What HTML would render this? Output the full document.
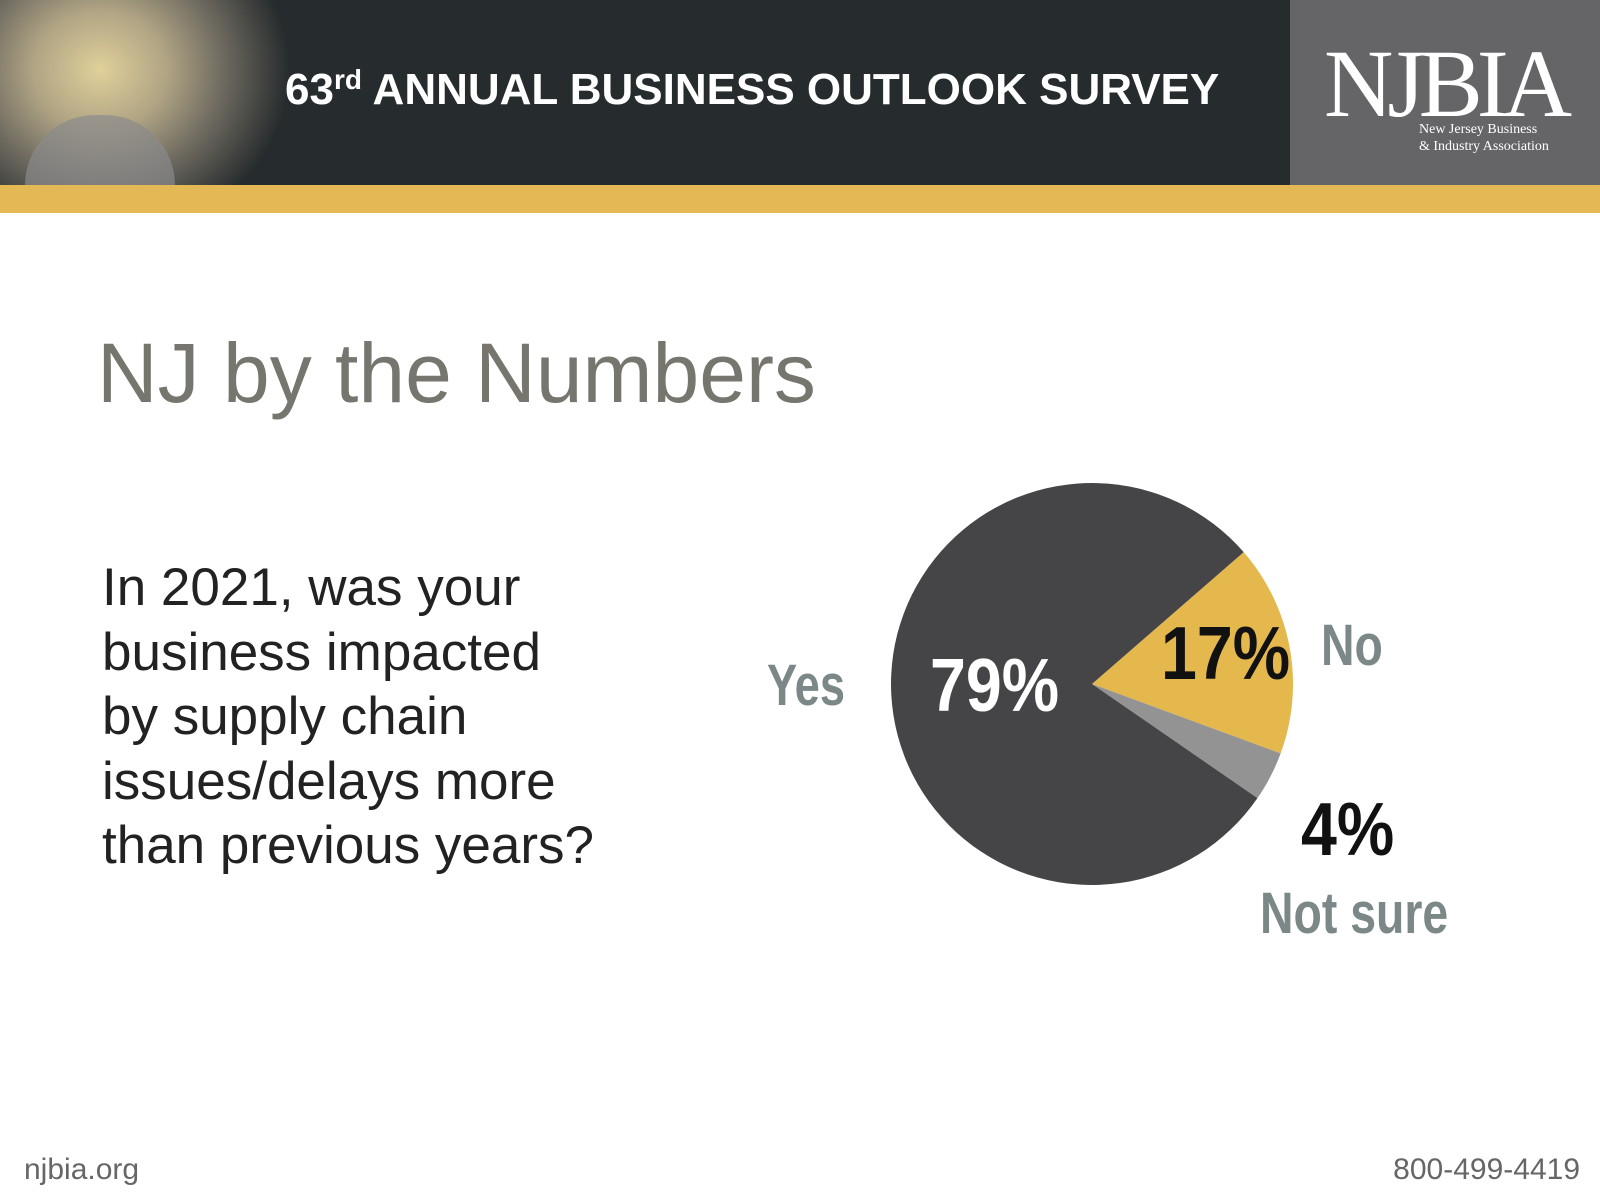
<!DOCTYPE html>
<html><head><meta charset="utf-8"><style>
body{margin:0;width:1600px;height:1200px;background:#fff;overflow:hidden;font-family:"Liberation Sans",sans-serif;position:relative}
.abs{position:absolute;white-space:nowrap}
.cond{font-family:"Liberation Sans Narrow","Liberation Sans",sans-serif;font-weight:bold}
</style></head><body>
<div class="abs" style="left:0;top:0;width:1290px;height:185px;background:#262b2d"></div>
<div class="abs" style="left:0;top:0;width:330px;height:185px;background:radial-gradient(ellipse 190px 170px at 100px 70px,#e0d09a 0%,#b0a484 35%,#6e6a60 65%,#262b2d 100%)"></div>
<div class="abs" style="left:25px;top:115px;width:150px;height:70px;background:#8a8a8c;border-radius:70px 70px 0 0;opacity:.7"></div>
<div class="abs" style="left:285px;top:64px;font-size:44px;font-weight:bold;color:#fff">63<sup style="font-size:28px;vertical-align:15px">rd</sup> ANNUAL BUSINESS OUTLOOK SURVEY</div>
<div class="abs" style="left:1290px;top:0;width:310px;height:185px;background:#656568"></div>
<div class="abs" style="left:1324px;top:28px;font-family:'Liberation Serif',serif;font-size:96px;color:#fff;letter-spacing:-6px">NJBIA</div>
<div class="abs" style="left:1419px;top:121px;font-family:'Liberation Serif',serif;font-size:14px;line-height:17px;color:#fff">New Jersey Business<br>&amp; Industry Association</div>
<div class="abs" style="left:0;top:185px;width:1600px;height:28px;background:#e4b955"></div>
<div class="abs" style="left:97px;top:325px;font-size:84px;color:#76766f">NJ by the Numbers</div>
<div class="abs" style="left:102px;top:556px;font-size:53px;line-height:64.5px;color:#222">In 2021, was your<br>business impacted<br>by supply chain<br>issues/delays more<br>than previous years?</div>
<svg class="abs" style="left:0;top:0" width="1600" height="1200" id="pie"></svg>
<div class="abs cond" style="left:767px;top:652px;font-size:58px;color:#7c8888;transform:scaleX(.78);transform-origin:left">Yes</div>
<div class="abs cond" style="left:930px;top:642px;font-size:75px;color:#fff;transform:scaleX(.86);transform-origin:left">79%</div>
<div class="abs cond" style="left:1161px;top:610px;font-size:75px;color:#111;transform:scaleX(.86);transform-origin:left">17%</div>
<div class="abs cond" style="left:1321px;top:612px;font-size:58px;color:#7c8888;transform:scaleX(.8);transform-origin:left">No</div>
<div class="abs cond" style="left:1301px;top:786px;font-size:75px;color:#111;transform:scaleX(.86);transform-origin:left">4%</div>
<div class="abs cond" style="left:1260px;top:880px;font-size:58px;color:#7c8888;transform:scaleX(.8);transform-origin:left">Not sure</div>
<div class="abs" style="left:24px;top:1153px;font-size:30px;color:#666">njbia.org</div>
<div class="abs" style="right:20px;top:1153px;font-size:30px;color:#666">800-499-4419</div>
<script>
const categories=["No","Not sure","Yes"];
const values=[17,4,79];
const colors=["#e5b84e","#939393","#454547"];
const svg=document.getElementById('pie');
const cx=1092,cy=684,r=201;
const total=values.reduce((a,b)=>a+b,0);
let a=-41*Math.PI/180;
values.forEach((v,i)=>{
  const span=v/total*2*Math.PI;
  const a2=a+span;
  const x1=cx+r*Math.cos(a),y1=cy+r*Math.sin(a),x2=cx+r*Math.cos(a2),y2=cy+r*Math.sin(a2);
  const p=document.createElementNS('http://www.w3.org/2000/svg','path');
  p.setAttribute('d',`M${cx},${cy}L${x1},${y1}A${r},${r} 0 ${span>Math.PI?1:0} 1 ${x2},${y2}Z`);
  p.setAttribute('fill',colors[i]);
  
  
  svg.appendChild(p);
  a=a2;
});
</script>
</body></html>
